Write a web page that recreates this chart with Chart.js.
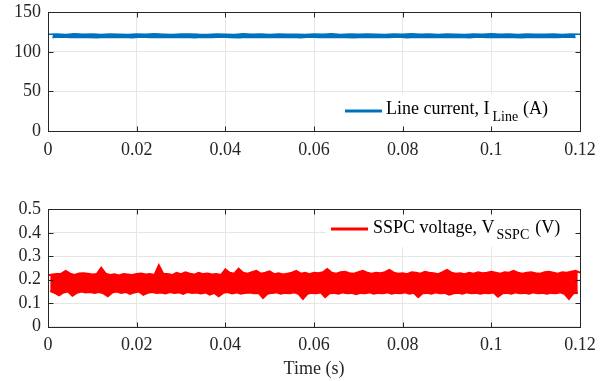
<!DOCTYPE html>
<html>
<head>
<meta charset="utf-8">
<script src="https://cdn.jsdelivr.net/npm/chart.js@4"></script>
<style>
  html, body { margin: 0; padding: 0; background: #fff; }
  #wrap { position: relative; width: 607px; height: 381px; overflow: hidden; }
  canvas { position: absolute; left: 0; }
</style>
</head>
<body>
<div id="wrap">
  <canvas id="top" width="607" height="196" style="top:-6px"></canvas>
  <canvas id="bot" width="607" height="191" style="top:190px"></canvas>
</div>
<script>
// ---------------- DATA ----------------
// Line current: upper / lower envelope of the noisy trace (peaks at even ms, troughs at odd ms)
const currentStep = 0.001;
const currentPeaks = [122.3,122.6,122.0,122.8,122.2,122.5,122.1,122.7,122.4,121.9,122.6,122.2,122.8,122.3,122.0,122.5,122.7,122.2,122.1,122.6,122.4,122.0,122.8,122.3,122.5,122.1,122.7,122.2,122.4,122.0,122.6,122.3,122.8,122.1,122.5,122.2,122.7,122.4,122.0,122.6,122.3,122.8,122.2,122.5,122.1,122.7,122.4,122.0,122.6,122.2,122.8,122.3,122.5,122.1,122.7,122.4,122.2,122.6,122.0,122.5,122.3];
const currentTroughs = [118.2,118.7,118.0,118.5,118.3,117.8,118.6,118.1,118.4,117.9,118.7,118.2,118.5,118.0,118.3,118.6,117.8,118.4,118.1,118.7,118.2,117.9,118.5,118.3,118.0,118.6,118.1,118.4,117.8,118.7,118.2,118.5,118.0,118.3,117.9,118.6,118.1,118.4,118.2,118.7,117.8,118.5,118.0,118.3,118.6,118.1,118.4,117.9,118.7,118.2,118.5,118.0,118.3,117.8,118.6,118.1,118.4,118.2,118.7,118.0];

// SSPC voltage: upper / lower envelope of the noisy trace (peaks at even 0.5 ms, troughs at odd 0.5 ms)
const voltageStep = 0.0005;
const voltagePeaks = [0.219,0.222,0.224,0.226,0.238,0.226,0.220,0.227,0.228,0.226,0.222,0.224,0.251,0.226,0.220,0.223,0.218,0.224,0.222,0.220,0.224,0.227,0.222,0.224,0.220,0.262,0.226,0.224,0.220,0.229,0.224,0.232,0.226,0.222,0.230,0.224,0.227,0.222,0.224,0.220,0.244,0.230,0.226,0.247,0.230,0.226,0.232,0.238,0.226,0.230,0.236,0.224,0.228,0.222,0.226,0.230,0.238,0.226,0.230,0.224,0.230,0.228,0.232,0.246,0.230,0.226,0.232,0.234,0.228,0.226,0.232,0.238,0.230,0.226,0.230,0.228,0.232,0.242,0.230,0.226,0.228,0.224,0.232,0.230,0.226,0.234,0.230,0.228,0.224,0.232,0.242,0.230,0.226,0.228,0.224,0.230,0.226,0.232,0.228,0.230,0.234,0.230,0.226,0.232,0.230,0.238,0.230,0.226,0.230,0.232,0.228,0.226,0.232,0.234,0.230,0.226,0.232,0.230,0.234,0.238,0.230];
const voltageTroughs = [0.152,0.144,0.134,0.146,0.150,0.132,0.144,0.150,0.146,0.148,0.144,0.148,0.142,0.130,0.146,0.150,0.144,0.148,0.140,0.146,0.150,0.136,0.144,0.148,0.144,0.146,0.142,0.148,0.144,0.146,0.140,0.148,0.144,0.146,0.142,0.146,0.136,0.144,0.130,0.144,0.148,0.142,0.146,0.140,0.144,0.146,0.142,0.144,0.122,0.140,0.144,0.146,0.140,0.144,0.142,0.146,0.140,0.118,0.140,0.144,0.142,0.146,0.126,0.142,0.144,0.140,0.146,0.142,0.144,0.138,0.144,0.142,0.146,0.140,0.144,0.142,0.146,0.140,0.144,0.142,0.146,0.140,0.144,0.126,0.142,0.144,0.140,0.146,0.142,0.144,0.136,0.142,0.144,0.140,0.146,0.142,0.144,0.140,0.144,0.142,0.146,0.128,0.142,0.144,0.140,0.146,0.142,0.144,0.140,0.146,0.142,0.144,0.140,0.144,0.142,0.146,0.140,0.118,0.142,0.144];

const timeTicks = [0, 0.02, 0.04, 0.06, 0.08, 0.1, 0.12];
const currentTicks = [0, 50, 100, 150];
const voltageTicks = [0, 0.1, 0.2, 0.3, 0.4, 0.5];

// ---------------- build series ----------------
function toPoints(values, step, offset) {
  return values.map((v, k) => ({ x: (2 * k + offset) * step, y: v }));
}
const currentUpper = toPoints(currentPeaks, currentStep, 0);
const currentLower = toPoints(currentTroughs, currentStep, 1);
const voltageUpper = toPoints(voltagePeaks, voltageStep, 0);
const voltageLower = toPoints(voltageTroughs, voltageStep, 1);

// ---------------- styling helpers ----------------
const FONT = "'Liberation Serif', 'Times New Roman', serif";
const AX = '#262626';
const GRID = '#e6e6e6';

function fmt(dec) { return v => String(Number(v.toFixed(dec))); }

function boxPlugin(legend) {
  return {
    id: 'boxAndLegend',
    afterDatasetsDraw(chart) {
      const ctx = chart.ctx;
      ctx.save();
      ctx.fillStyle = '#fff';
      ctx.fillRect(legend.box[0], legend.box[1], legend.box[2], legend.box[3]);
      ctx.strokeStyle = legend.color;
      ctx.lineWidth = 3;
      ctx.beginPath();
      ctx.moveTo(legend.line[0], legend.line[2]);
      ctx.lineTo(legend.line[1], legend.line[2]);
      ctx.stroke();
      ctx.fillStyle = '#000';
      ctx.textBaseline = 'alphabetic';
      ctx.textAlign = 'left';
      ctx.font = '18px ' + FONT;
      let x = legend.textX;
      ctx.fillText(legend.main, x, legend.baseline);
      x += ctx.measureText(legend.main).width + legend.gap1;
      ctx.font = '14px ' + FONT;
      ctx.fillText(legend.sub, x, legend.baseline + legend.subDrop);
      x += ctx.measureText(legend.sub).width + legend.gap2;
      ctx.font = '18px ' + FONT;
      ctx.fillText(legend.tail, x, legend.baseline);
      ctx.restore();
    },
    afterDraw(chart) {
      const ctx = chart.ctx;
      const a = chart.chartArea;
      const xs = chart.scales.x, ys = chart.scales.y;
      ctx.save();
      ctx.strokeStyle = AX;
      ctx.lineWidth = 1;
      const L = Math.round(a.left) + 0.5, R = Math.round(a.right) + 0.5;
      const T = Math.round(a.top) + 0.5, B = Math.round(a.bottom) + 0.5;
      ctx.strokeRect(L, T, R - L, B - T);
      const tl = 5;
      ctx.beginPath();
      xs.ticks.forEach(t => {
        const px = Math.round(xs.getPixelForValue(t.value)) + 0.5;
        ctx.moveTo(px, B); ctx.lineTo(px, B - tl);
        ctx.moveTo(px, T); ctx.lineTo(px, T + tl);
      });
      ys.ticks.forEach(t => {
        const py = Math.round(ys.getPixelForValue(t.value)) + 0.5;
        ctx.moveTo(L, py); ctx.lineTo(L + tl, py);
        ctx.moveTo(R, py); ctx.lineTo(R - tl, py);
      });
      ctx.stroke();
      ctx.restore();
    }
  };
}

function xScale(withTitle, axisHeight) {
  return {
    type: 'linear',
    min: 0, max: 0.12,
    afterBuildTicks: s => { s.ticks = timeTicks.map(v => ({ value: v })); },
    ticks: { color: AX, font: { family: FONT, size: 18 }, padding: 8, autoSkip: false, maxRotation: 0, callback: fmt(2) },
    grid: { color: GRID, drawTicks: false, lineWidth: 1 },
    border: { display: false },
    title: withTitle ? { display: true, text: 'Time (s)', color: AX, font: { family: FONT, size: 18 }, padding: { top: 0, bottom: 1 } } : { display: false },
    afterFit: s => { s.height = axisHeight; }
  };
}
function yScale(min, max, tickList, dec) {
  return {
    type: 'linear',
    min, max,
    afterBuildTicks: s => { s.ticks = tickList.map(v => ({ value: v })); },
    ticks: { color: AX, font: { family: FONT, size: 18 }, padding: 7, autoSkip: false, callback: fmt(dec) },
    grid: { color: GRID, drawTicks: false, lineWidth: 1 },
    border: { display: false },
    afterFit: s => { s.width = 48; }
  };
}

const common = {
  responsive: false,
  animation: false,
  devicePixelRatio: 1,
  events: [],
  plugins: { legend: { display: false }, tooltip: { enabled: false }, filler: { propagate: false } },
  elements: { point: { radius: 0 }, line: { tension: 0 } }
};

function bandDatasets(label, upper, lower, color, width) {
  return [
    { label: label + ' (upper)', data: upper, borderColor: color, borderWidth: width, pointRadius: 0, fill: false },
    { label: label + ' (lower)', data: lower, borderColor: color, borderWidth: width, pointRadius: 0, fill: '-1', backgroundColor: color }
  ];
}

// top canvas is shifted up by 6px in the page, so local y = page y + 6
new Chart(document.getElementById('top'), {
  type: 'line',
  data: { datasets: bandDatasets('Line current, I_Line (A)', currentUpper, currentLower, '#0072BD', 1.5) },
  options: Object.assign({}, common, {
    layout: { padding: { top: 18.3, right: 27, left: 0, bottom: 0 } },
    scales: { x: xScale(false, 59), y: yScale(0, 150, currentTicks, 0) }
  }),
  plugins: [boxPlugin({
    box: [337, 100, 242, 36], line: [345, 382, 117], color: '#0072BD',
    textX: 386, baseline: 120, main: 'Line current, I', sub: 'Line', tail: '(A)',
    gap1: 3, gap2: 5, subDrop: 7
  })]
});

new Chart(document.getElementById('bot'), {
  type: 'line',
  data: { datasets: bandDatasets('SSPC voltage, V_SSPC (V)', voltageUpper, voltageLower, '#FF0000', 2) },
  options: Object.assign({}, common, {
    layout: { padding: { top: 19.3, right: 27, left: 0, bottom: 0 } },
    scales: { x: xScale(true, 54.3), y: yScale(0, 0.5, voltageTicks, 1) }
  }),
  plugins: [boxPlugin({
    box: [326, 20, 253, 37], line: [331, 368, 39], color: '#FF0000',
    textX: 373, baseline: 42.7, main: 'SSPC voltage, V', sub: 'SSPC', tail: '(V)',
    gap1: 2, gap2: 6, subDrop: 6.5
  })]
});
</script>
</body>
</html>
